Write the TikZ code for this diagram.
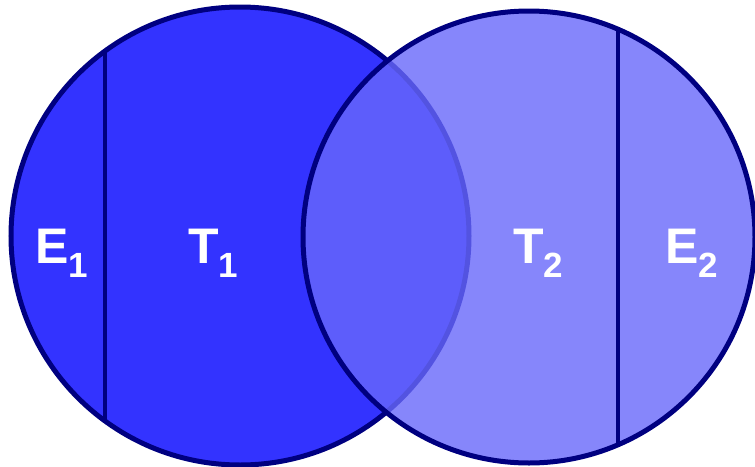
\documentclass[tikz,border=0pt]{standalone}
\usepackage{fontspec}
\setmainfont{Liberation Sans}
\usetikzlibrary{positioning}
\definecolor{setblue}{RGB}{51,51,255}
\definecolor{setlight}{RGB}{104,104,250}
\definecolor{rimblue}{RGB}{0,0,128}

\begin{document}
\begin{tikzpicture}[
    x=1pt, y=-1pt,
    rim/.style={draw=rimblue, line width=5pt},
    cut/.style={draw=rimblue, line width=3.5pt},
    lbl/.style={text=white, inner sep=0pt, anchor=base west, font=\fontsize{50}{50}\selectfont\bfseries}
]
\useasboundingbox (0,0) rectangle (755,466);
\newcommand{\subidx}[1]{\raisebox{-14pt}{\fontsize{35}{35}\selectfont #1}}

% first set
\draw[rim, fill=setblue] (240,236) circle[radius=229pt];
\coordinate (cut1top) at (105,51);
\coordinate (cut1bot) at (105,421);
\draw[cut] (cut1top) -- (cut1bot);

% second set, see-through
\draw[rim, fill=setlight, fill opacity=0.8] (529,237) circle[radius=226pt];
\coordinate (cut2top) at (618,29);
\coordinate (cut2bot) at (618,445);
\draw[cut] (cut2top) -- (cut2bot);

\node[lbl] (e1) at (35,263) {E\subidx{1}};
\node[lbl] (t1) at (188,263) {T\subidx{1}};
\node[lbl] (t2) at (513,263) {T\subidx{2}};
\node[lbl] (e2) at (665,263) {E\subidx{2}};
\end{tikzpicture}
\end{document}
